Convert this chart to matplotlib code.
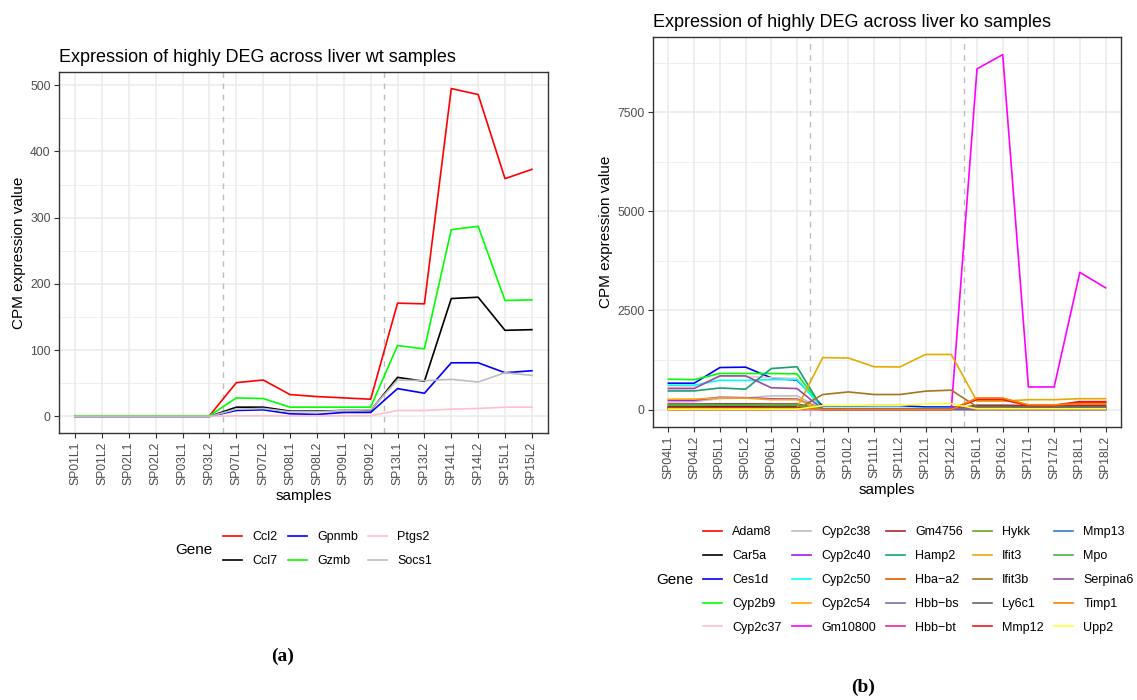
import matplotlib.pyplot as plt
from matplotlib.lines import Line2D
from matplotlib.ticker import MultipleLocator

plt.rcParams['font.family'] = ['Liberation Sans', 'DejaVu Sans']

# ---- panel (a): liver wt ----
wt_samples = ['SP01L1', 'SP01L2', 'SP02L1', 'SP02L2', 'SP03L1', 'SP03L2',
              'SP07L1', 'SP07L2', 'SP08L1', 'SP08L2', 'SP09L1', 'SP09L2',
              'SP13L1', 'SP13L2', 'SP14L1', 'SP14L2', 'SP15L1', 'SP15L2']
wt_genes = ['Ccl2', 'Ccl7', 'Gpnmb', 'Gzmb', 'Ptgs2', 'Socs1']
wt_colors = ['red', 'black', 'blue', '#00FF00', 'pink', '#BEBEBE']

ccl2 = [1, 1, 1, 1, 1, 1, 51, 55, 33, 30, 28, 26, 171, 170, 495, 486, 359, 373]
ccl7 = [0, 0, 0, 0, 0, 0, 14, 14, 8, 8, 9, 9, 59, 53, 178, 180, 130, 131]
gpnmb = [0, 0, 0, 0, 0, 0, 9, 10, 4, 3, 6, 6, 42, 35, 81, 81, 66, 69]
gzmb = [1, 1, 1, 1, 1, 1, 28, 27, 14, 14, 14, 14, 107, 102, 282, 287, 175, 176]
ptgs2 = [0, 0, 0, 0, 0, 0, 1, 1, 1, 1, 1, 1, 9, 9, 11, 12, 14, 14]
socs1 = [0, 0, 0, 0, 0, 0, 11, 12, 7, 7, 9, 10, 55, 54, 56, 52, 66, 62]
wt_values = [ccl2, ccl7, gpnmb, gzmb, ptgs2, socs1]

# ---- panel (b): liver ko ----
ko_samples = ['SP04L1', 'SP04L2', 'SP05L1', 'SP05L2', 'SP06L1', 'SP06L2',
              'SP10L1', 'SP10L2', 'SP11L1', 'SP11L2', 'SP12L1', 'SP12L2',
              'SP16L1', 'SP16L2', 'SP17L1', 'SP17L2', 'SP18L1', 'SP18L2']
ko_genes = ['Adam8', 'Car5a', 'Ces1d', 'Cyp2b9', 'Cyp2c37', 'Cyp2c38', 'Cyp2c40',
            'Cyp2c50', 'Cyp2c54', 'Gm10800', 'Gm4756', 'Hamp2', 'Hba\u2212a2',
            'Hbb\u2212bs', 'Hbb\u2212bt', 'Hykk', 'Ifit3', 'Ifit3b', 'Ly6c1',
            'Mmp12', 'Mmp13', 'Mpo', 'Serpina6', 'Timp1', 'Upp2']
ko_colors = ['red', 'black', 'blue', '#00FF00', 'pink', '#BEBEBE', '#A020F0',
             'cyan', 'orange', 'magenta', '#A52A2A', '#1B9E77', '#D95F02',
             '#7570B3', '#E7298A', '#66A61E', '#E6AB02', '#A6761D', '#666666',
             '#E41A1C', '#377EB8', '#4DAF4A', '#984EA3', '#FF7F00', '#FFFF33']

adam8 = [50, 50, 55, 55, 50, 50, 10, 10, 10, 10, 10, 10, 280, 280, 110, 110, 200, 200]
car5a = [70, 70, 75, 75, 70, 70, 5, 5, 5, 5, 5, 5, 5, 5, 5, 5, 5, 5]
ces1d = [665, 665, 1060, 1070, 800, 740, 90, 90, 100, 100, 65, 65, 20, 20, 20, 20, 20, 20]
cyp2b9 = [765, 755, 910, 910, 910, 900, 20, 20, 20, 20, 20, 20, 10, 10, 10, 10, 10, 10]
cyp2c37 = [565, 570, 840, 840, 800, 790, 10, 10, 10, 10, 10, 10, 5, 5, 5, 5, 5, 5]
cyp2c38 = [195, 200, 280, 290, 345, 345, 10, 10, 10, 10, 10, 10, 5, 5, 5, 5, 5, 5]
cyp2c40 = [235, 235, 310, 300, 270, 265, 10, 10, 10, 10, 10, 10, 5, 5, 5, 5, 5, 5]
cyp2c50 = [615, 615, 740, 735, 755, 755, 30, 30, 30, 30, 30, 30, 10, 10, 10, 10, 10, 10]
cyp2c54 = [260, 265, 295, 290, 250, 250, 15, 15, 15, 15, 15, 15, 5, 5, 5, 5, 5, 5]
gm10800 = [0, 0, 0, 0, 0, 0, 0, 0, 0, 0, 0, 0, 8590, 8950, 570, 570, 3460, 3070]
gm4756 = [140, 140, 145, 145, 140, 140, 10, 10, 10, 10, 10, 10, 110, 110, 100, 100, 110, 110]
hamp2 = [470, 470, 545, 515, 1035, 1080, 10, 10, 10, 10, 10, 10, 10, 10, 10, 10, 10, 10]
hba_a2 = [30, 30, 30, 30, 30, 30, 10, 10, 10, 10, 10, 10, 30, 30, 30, 30, 30, 30]
hbb_bs = [40, 40, 45, 45, 40, 40, 10, 10, 10, 10, 10, 10, 35, 35, 35, 35, 35, 35]
hbb_bt = [50, 50, 55, 55, 50, 50, 10, 10, 10, 10, 10, 10, 40, 40, 40, 40, 40, 40]
hykk = [100, 100, 110, 110, 100, 100, 20, 20, 20, 20, 20, 20, 60, 60, 60, 60, 60, 60]
ifit3 = [0, 0, 0, 0, 0, 40, 1310, 1300, 1080, 1075, 1390, 1390, 210, 210, 250, 250, 275, 275]
ifit3b = [5, 5, 5, 5, 5, 5, 380, 445, 380, 380, 465, 490, 70, 70, 70, 70, 70, 70]
ly6c1 = [40, 40, 45, 45, 40, 40, 10, 10, 10, 10, 10, 10, 80, 80, 60, 60, 70, 70]
mmp12 = [40, 40, 45, 45, 40, 40, 5, 5, 5, 5, 5, 5, 250, 250, 100, 100, 185, 185]
mmp13 = [15, 15, 15, 15, 15, 15, 5, 5, 5, 5, 5, 5, 10, 10, 10, 10, 10, 10]
mpo = [120, 120, 125, 125, 120, 120, 10, 10, 10, 10, 10, 10, 20, 20, 20, 20, 20, 20]
serpina6 = [530, 530, 850, 850, 550, 530, 10, 10, 10, 10, 10, 10, 5, 5, 5, 5, 5, 5]
timp1 = [20, 20, 20, 20, 20, 20, 0, 0, 0, 0, 0, 0, 290, 290, 120, 120, 150, 150]
upp2 = [10, 10, 10, 10, 10, 10, 100, 100, 110, 110, 140, 150, 20, 20, 20, 20, 20, 20]
ko_values = [adam8, car5a, ces1d, cyp2b9, cyp2c37, cyp2c38, cyp2c40, cyp2c50,
             cyp2c54, gm10800, gm4756, hamp2, hba_a2, hbb_bs, hbb_bt, hykk,
             ifit3, ifit3b, ly6c1, mmp12, mmp13, mpo, serpina6, timp1, upp2]

W, H = 1137, 700
fig = plt.figure(figsize=(W / 100, H / 100), dpi=100)


def px_axes(x0, y0, x1, y1):
    return fig.add_axes([x0 / W, 1 - y1 / H, (x1 - x0) / W, (y1 - y0) / H])


def style(ax, samples, title, ylim, major, minor):
    ax.set_xlim(-0.6, len(samples) - 0.4)
    ax.set_ylim(*ylim)
    ax.set_xticks(range(len(samples)))
    ax.set_xticklabels(samples, rotation=90)
    ax.yaxis.set_major_locator(MultipleLocator(major))
    ax.yaxis.set_minor_locator(MultipleLocator(minor))
    ax.grid(True, which='major', color='#EBEBEB', lw=1.1, zorder=0)
    ax.grid(True, which='minor', axis='y', color='#EBEBEB', lw=0.55, zorder=0)
    ax.tick_params(which='major', labelsize=8.7, labelcolor='#4D4D4D',
                   color='#333333', length=3.5, width=0.8, pad=2.5)
    ax.tick_params(which='minor', length=0)
    for sp in ax.spines.values():
        sp.set_color('#333333')
        sp.set_linewidth(1.0)
    ax.set_axisbelow(True)
    ax.set_title(title, loc='left', fontsize=13, pad=7)
    ax.set_xlabel('samples', fontsize=11, labelpad=3)
    ax.set_ylabel('CPM expression value', fontsize=11, labelpad=3)
    for xv in (5.5, 11.5):
        ax.axvline(xv, color='#BDBDBD', ls=(0, (4, 4)), lw=1.0, zorder=1)


ax1 = px_axes(59, 72, 548, 433)
for vals, c in zip(wt_values, wt_colors):
    ax1.plot(range(len(wt_samples)), vals, color=c, lw=1.2, zorder=2)
style(ax1, wt_samples, 'Expression of highly DEG across liver wt samples',
      (-25, 520), 100, 50)

ax2 = px_axes(653, 37, 1121, 427)
for vals, c in zip(ko_values, ko_colors):
    ax2.plot(range(len(ko_samples)), vals, color=c, lw=1.2, zorder=2)
style(ax2, ko_samples, 'Expression of highly DEG across liver ko samples',
      (-439, 9394), 2500, 1250)

# legends
h1 = [Line2D([], [], color=c, lw=1.2) for c in wt_colors]
fig.legend(h1, wt_genes, ncol=3, loc='center left',
           bbox_to_anchor=(223 / W, 1 - 549 / H), frameon=False, fontsize=9,
           handlelength=1.55, handletextpad=0.8, columnspacing=0.8,
           labelspacing=0.95, borderpad=0, borderaxespad=0)
fig.text(175 / W, 1 - 550 / H, 'Gene', fontsize=11, va='center', ha='left')

h2 = [Line2D([], [], color=c, lw=1.2) for c in ko_colors]
fig.legend(h2, ko_genes, ncol=5, loc='center left',
           bbox_to_anchor=(703 / W, 1 - 580 / H), frameon=False, fontsize=9,
           handlelength=1.55, handletextpad=0.8, columnspacing=0.8,
           labelspacing=0.95, borderpad=0, borderaxespad=0)
fig.text(656 / W, 1 - 580 / H, 'Gene', fontsize=11, va='center', ha='left')

fig.text(283 / W, 1 - 656 / H, '(a)', fontsize=14, fontweight='bold',
         family='Liberation Serif', ha='center', va='center')
fig.text(863 / W, 1 - 687 / H, '(b)', fontsize=14, fontweight='bold',
         family='Liberation Serif', ha='center', va='center')

fig.savefig('out.png', dpi=100)
